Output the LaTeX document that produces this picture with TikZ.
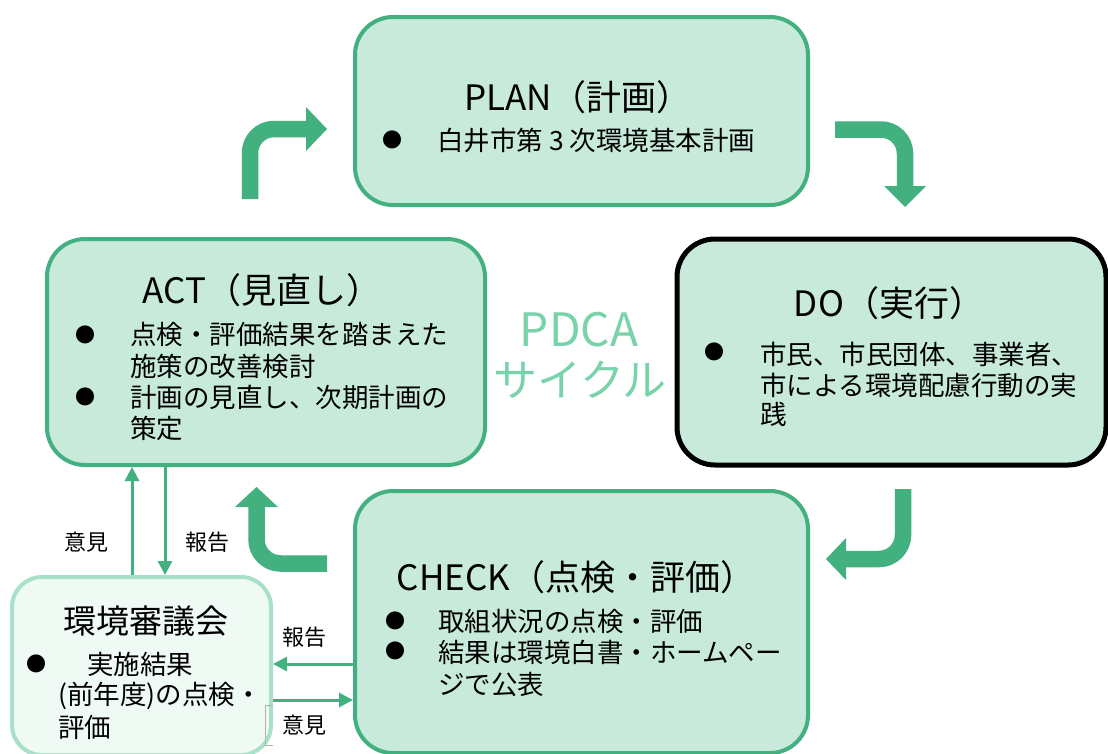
\documentclass[tikz,border=0pt]{standalone}
\usepackage{fontspec}
\setmainfont{Noto Sans CJK JP}
\usetikzlibrary{arrows.meta}
\definecolor{gr}{RGB}{67,176,127}
\definecolor{fillg}{RGB}{199,234,219}
\definecolor{cborder}{RGB}{168,224,200}
\definecolor{cfill}{RGB}{240,250,245}
\definecolor{pdcac}{RGB}{120,210,170}
\tikzset{
  box/.style={draw=gr, line width=4pt, fill=fillg, rounded corners=38pt, inner sep=0pt},
  dobox/.style={box, draw=black, line width=5pt},
  cbox/.style={draw=cborder, line width=4pt, fill=cfill, rounded corners=30pt, inner sep=0pt},
  ttl/.style={inner sep=0pt, font=\fontsize{35}{40}\selectfont},
  bodyt/.style={inner sep=0pt, anchor=west, font=\fontsize{26.5}{32}\selectfont},
  bul/.style={inner sep=0pt, font=\fontsize{20}{24}\selectfont},
  lbl/.style={inner sep=0pt, font=\fontsize{22}{26}\selectfont},
  band/.style={draw=gr, line width=16.5pt, rounded corners=24pt},
  head/.style={fill=gr},
  tarrow/.style={draw=gr, line width=3pt, -{Triangle[length=14pt,width=14pt]}},
}
\begin{document}
\begin{tikzpicture}[x=1pt,y=-1pt]
\useasboundingbox (0,0) rectangle (1108,753);
\clip (0,0) rectangle (1108,753);
\fill[white] (0,0) rectangle (1108,753);

% boxes
\node[box, minimum width=453, minimum height=188] (plan) at (581.5,111) {};
\node[box, minimum width=438, minimum height=226] (act) at (266,352) {};
\node[dobox, minimum width=429, minimum height=226] (do) at (891.5,352) {};
\node[box, minimum width=453, minimum height=262] (check) at (581.5,622) {};
\node[cbox, minimum width=259, minimum height=178] (council) at (141.5,666) {};

% PDCA
\node[inner sep=0pt, text=pdcac, font=\fontsize{46}{50}\selectfont] (pdca1) at (579,330) {PDCA};
\node[inner sep=0pt, text=pdcac, font=\fontsize{44}{50}\selectfont] (pdca2) at (580,380) {サイクル};

% PLAN
\node[ttl] (plant) at (578,97) {PLAN（計画）};
\node[bul] (planb) at (392,140) {●};
\node[bodyt] (plan1) at (437,140) {白井市第 3 次環境基本計画};

% ACT
\node[ttl] (actt) at (262,290) {ACT（見直し）};
\node[bul] (actb1) at (85,335) {●};
\node[bul] (actb2) at (85,397) {●};
\node[bodyt] (act1) at (130,334) {点検・評価結果を踏まえた};
\node[bodyt] (act2) at (130,366) {施策の改善検討};
\node[bodyt] (act3) at (130,397) {計画の見直し、次期計画の};
\node[bodyt] (act4) at (130,428) {策定};

% DO
\node[ttl] (dot) at (889,303) {DO（実行）};
\node[bul] (dob) at (714,352) {●};
\node[bodyt] (do1) at (760,354) {市民、市民団体、事業者、};
\node[bodyt] (do2) at (760,385) {市による環境配慮行動の実};
\node[bodyt] (do3) at (760,414) {践};

% CHECK
\node[ttl] (checkt) at (576,577) {CHECK（点検・評価）};
\node[bul] (checkb1) at (395,621) {●};
\node[bul] (checkb2) at (395,651) {●};
\node[bodyt] (check1) at (438,621) {取組状況の点検・評価};
\node[bodyt] (check2) at (438,652) {結果は環境白書・ホームペー};
\node[bodyt] (check3) at (438,684) {ジで公表};

% council
\node[inner sep=0pt, font=\fontsize{33}{38}\selectfont] (councilt) at (146,621) {環境審議会};
\node[bul] (councilb) at (37,664) {●};
\node[bodyt] (council1) at (87,664) {実施結果};
\node[bodyt] (council2) at (58,696) {(前年度)の点検・};
\node[bodyt] (council3) at (58,727) {評価};

% small artifact box
\draw[gray!60, line width=0.8pt] (273,705) -- (265,705) -- (265,745) -- (273,745);

% cycle arrows
\coordinate (a1s) at (250,199); \coordinate (a1c) at (250,129); \coordinate (a1e) at (308,129);
\draw[band] (a1s) -- (a1c) -- (a1e);
\fill[head] (306,107) -- (327,129) -- (306,151) -- cycle;

\coordinate (a2s) at (835,129.5); \coordinate (a2c) at (905,129.5); \coordinate (a2e) at (905,188);
\draw[band] (a2s) -- (a2c) -- (a2e);
\fill[head] (884,186) -- (905,207) -- (926,186) -- cycle;

\coordinate (a3s) at (903,489); \coordinate (a3c) at (903,559); \coordinate (a3e) at (844,559);
\draw[band] (a3s) -- (a3c) -- (a3e);
\fill[head] (846,538) -- (826,559) -- (846,580) -- cycle;

\coordinate (a4s) at (327,563.5); \coordinate (a4c) at (256.5,563.5); \coordinate (a4e) at (256.5,505);
\draw[band] (a4s) -- (a4c) -- (a4e);
\fill[head] (235,507) -- (256.5,487) -- (278,507) -- cycle;

% thin arrows
\coordinate (xu) at (132,0);
\coordinate (xd) at (165,0);
\coordinate (yl) at (0,664);
\coordinate (yr) at (0,700);
\draw[tarrow] (council.north -| xu) -- (act.south -| xu);
\draw[tarrow] (act.south -| xd) -- (council.north -| xd);
\draw[tarrow] (check.west |- yl) -- (council.east |- yl);
\draw[tarrow] (council.east |- yr) -- (check.west |- yr);

\node[lbl] (l1) at (86,542) {意見};
\node[lbl] (l2) at (207,542) {報告};
\node[lbl] (l3) at (304,637) {報告};
\node[lbl] (l4) at (304,725) {意見};
\end{tikzpicture}
\end{document}
